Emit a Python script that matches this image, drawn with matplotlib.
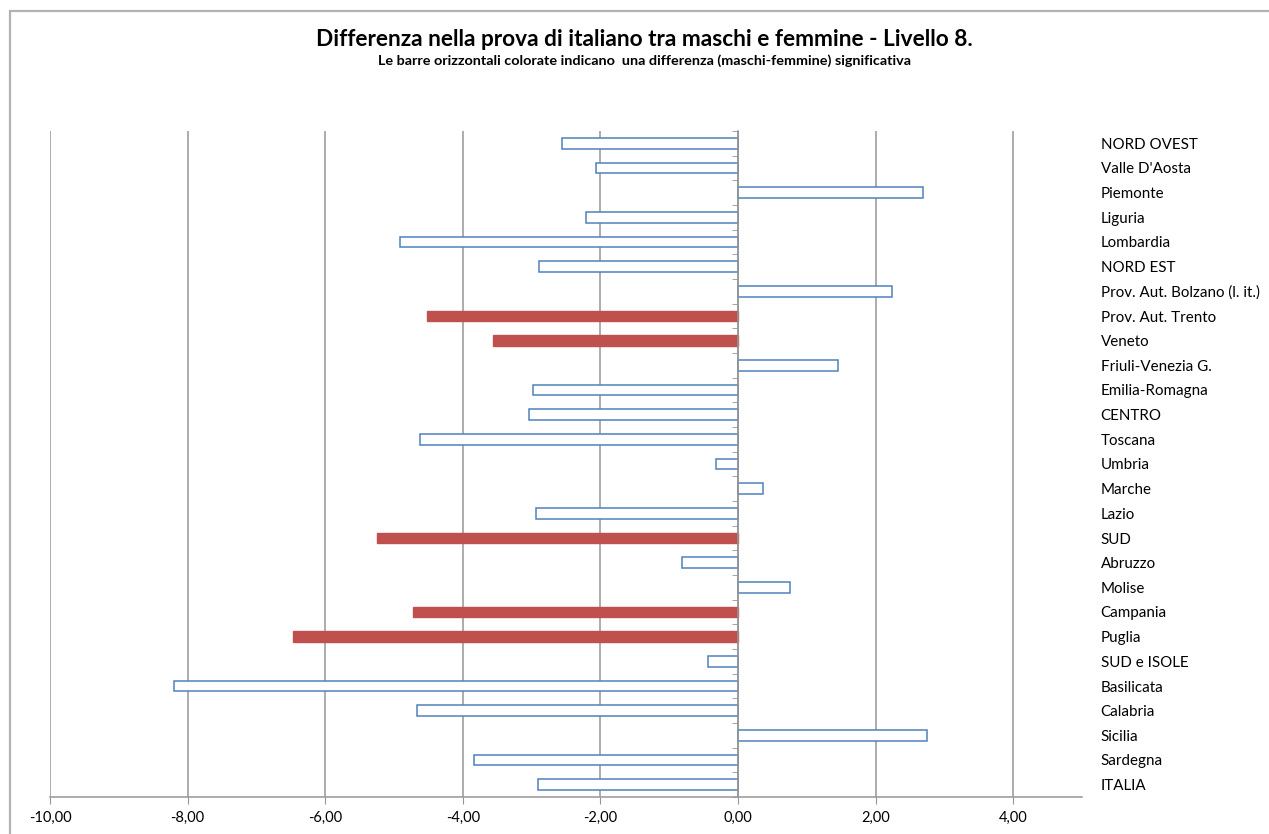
import numpy as np
import matplotlib
matplotlib.use('Agg')
from matplotlib import pyplot as plt
from matplotlib.patches import Rectangle

plt.rcParams['font.family'] = ['Lato', 'DejaVu Sans']

regioni = ['NORD OVEST', "Valle D'Aosta", 'Piemonte', 'Liguria', 'Lombardia',
           'NORD EST', 'Prov. Aut. Bolzano (l. it.)', 'Prov. Aut. Trento', 'Veneto',
           'Friuli-Venezia G.', 'Emilia-Romagna', 'CENTRO', 'Toscana', 'Umbria',
           'Marche', 'Lazio', 'SUD', 'Abruzzo', 'Molise', 'Campania', 'Puglia',
           'SUD e ISOLE', 'Basilicata', 'Calabria', 'Sicilia', 'Sardegna', 'ITALIA']
differenza = [-2.56, -2.06, 2.69, -2.21, -4.91, -2.89, 2.24, -4.52, -3.56,
              1.45, -2.98, -3.04, -4.62, -0.32, 0.36, -2.94, -5.24, -0.81,
              0.76, -4.72, -6.47, -0.43, -8.20, -4.67, 2.75, -3.83, -2.90]
significativa = ['Prov. Aut. Trento', 'Veneto', 'SUD', 'Campania', 'Puglia']
xticks = [-10, -8, -6, -4, -2, 0, 2, 4]

W, H = 1269, 834
fig = plt.figure(figsize=(W / 100, H / 100), dpi=100)
ax = fig.add_axes([50 / W, 37 / H, (1082 - 50) / W, (797 - 131) / H])

# cornice del grafico
fig.patches.append(Rectangle((10 / W, -0.1), 1.2, (H - 11) / H + 0.1,
                             transform=fig.transFigure, fill=False,
                             edgecolor='#b3b3b3', linewidth=1.6))

y = np.arange(len(regioni))
for i, (nome, val) in enumerate(zip(regioni, differenza)):
    if nome in significativa:
        ax.barh(y[i], val, height=0.42, color='#c0504d', edgecolor='#c0504d', zorder=3)
    else:
        ax.barh(y[i], val, height=0.42, color='white', edgecolor='#4f81bd',
                linewidth=1.1, zorder=3)

ax.set_xlim(-10, 5)
ax.set_ylim(len(regioni) - 0.5, -0.5)

ax.set_xticks(xticks)
ax.xaxis.set_major_formatter(plt.FuncFormatter(lambda v, p: ('%.2f' % v).replace('.', ',')))
ax.grid(axis='x', color='#969696', linewidth=1.1, zorder=0)
ax.tick_params(axis='x', length=5, color='#969696', labelsize=10.5, pad=5)

for s in ['top', 'right']:
    ax.spines[s].set_visible(False)
ax.spines['bottom'].set_color('#969696')
ax.spines['bottom'].set_linewidth(1.1)
ax.spines['left'].set_position(('data', 0))
ax.spines['left'].set_color('#969696')
ax.spines['left'].set_linewidth(1.1)
ax.spines['left'].set_zorder(4)

ax.set_yticks(y)
ax.set_yticklabels(regioni)
ax.set_yticks(np.arange(len(regioni) + 1) - 0.5, minor=True)
ax.tick_params(axis='y', which='major', left=False, right=False,
               labelleft=False, labelright=True, labelsize=10.9, pad=10)
ax.tick_params(axis='y', which='minor', left=True, length=4, color='#969696')

fig.text(644 / W, 1 - 40 / H, 'Differenza nella prova di italiano tra maschi e femmine - Livello 8.',
         ha='center', va='center', fontsize=16.3, fontweight='bold')
fig.text(644 / W, 1 - 61 / H,
         'Le barre orizzontali colorate indicano  una differenza (maschi-femmine) significativa',
         ha='center', va='center', fontsize=10.4, fontweight='bold')

fig.savefig('out.png', dpi=100, facecolor='white')
